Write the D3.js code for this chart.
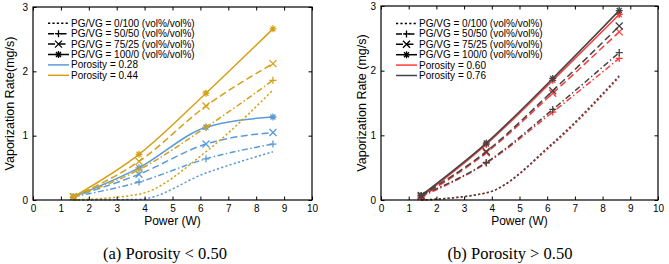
<!DOCTYPE html>
<html>
<head>
<meta charset="utf-8">
<script src="https://cdn.jsdelivr.net/npm/d3@7"></script>
<style>
  body { margin: 0; background: #fff; }
  svg { display: block; font-family: "Liberation Sans", Arial, sans-serif; }
</style>
</head>
<body>
<svg id="chart" width="669" height="264"></svg>
<script>
// valeurs
const power = [1.45, 3.8, 6.2, 8.6];
const blends = ["PG/VG = 0/100 (vol%/vol%)", "PG/VG = 50/50 (vol%/vol%)",
  "PG/VG = 75/25 (vol%/vol%)", "PG/VG = 100/0 (vol%/vol%)"];
const xTicks = [0, 1, 2, 3, 4, 5, 6, 7, 8, 9, 10];
const yTicks = [0, 1, 2, 3];

// panneau (a) : 0/100, 50/50, 75/25, 100/0
const rateP028 = [
  [0, 0.01, 0.42, 0.75],
  [0.05, 0.28, 0.64, 0.87],
  [0.05, 0.40, 0.87, 1.05],
  [0.05, 0.50, 1.13, 1.29]
];
const rateP044 = [
  [0, 0.09, 0.75, 1.71],
  [0.05, 0.47, 1.13, 1.86],
  [0.05, 0.60, 1.46, 2.12],
  [0.05, 0.71, 1.66, 2.66]
];
// panneau (b)
const rateP060 = [
  [0, 0.11, 0.86, 1.90],
  [0.05, 0.57, 1.36, 2.19],
  [0.05, 0.73, 1.65, 2.60],
  [0.05, 0.86, 1.85, 2.87]
];
const rateP076 = [
  [0, 0.11, 0.88, 1.92],
  [0.07, 0.58, 1.40, 2.28],
  [0.07, 0.75, 1.69, 2.69],
  [0.07, 0.88, 1.88, 2.93]
];

const dashes = ["2.2,2.2", "6,2.5,1.5,2.5", "7,3.5", null];
const markers = [null, "plus", "cross", "star"];

const svg = d3.select("#chart");

function marker(g, type, cx, cy, color, r = 3.5) {
  const p = d3.path();
  if (type === "plus" || type === "star") {
    p.moveTo(cx - r, cy); p.lineTo(cx + r, cy);
    p.moveTo(cx, cy - r); p.lineTo(cx, cy + r);
  }
  if (type === "cross" || type === "star") {
    const k = type === "star" ? r * 0.72 : r;
    p.moveTo(cx - k, cy - k); p.lineTo(cx + k, cy + k);
    p.moveTo(cx - k, cy + k); p.lineTo(cx + k, cy - k);
  }
  g.append("path").attr("d", p.toString())
    .attr("stroke", color).attr("stroke-width", 1.3).attr("fill", "none");
}

function drawPanel(opt) {
  const x = d3.scaleLinear().domain([0, 10]).range([opt.left, opt.right]);
  const y = d3.scaleLinear().domain([0, 3]).range([opt.bottom, opt.top]);
  const g = svg.append("g");

  // courbes
  const line = d3.line()
    .x((d, i) => x(power[i]))
    .y(d => y(d))
    .curve(d3.curveMonotoneX);

  opt.series.forEach(s => {
    s.values.forEach((vals, k) => {
      g.append("path")
        .attr("d", line(vals))
        .attr("fill", "none")
        .attr("stroke", s.color)
        .attr("stroke-width", 1.5)
        .attr("stroke-dasharray", dashes[k]);
      if (markers[k]) {
        vals.forEach((v, i) => marker(g, markers[k], x(power[i]), y(v), s.color));
      }
    });
  });

  // cadre et graduations internes
  g.append("rect")
    .attr("x", opt.left).attr("y", opt.top)
    .attr("width", opt.right - opt.left).attr("height", opt.bottom - opt.top)
    .attr("fill", "none").attr("stroke", "#000").attr("stroke-width", 1.2);

  g.append("g")
    .attr("transform", `translate(0,${opt.bottom})`)
    .call(d3.axisBottom(x).tickValues(xTicks).tickFormat(d3.format("d"))
      .tickSizeInner(-3.5).tickSizeOuter(0).tickPadding(5))
    .call(a => a.select(".domain").remove())
    .selectAll("text").style("font-size", "10px").style("font-family", "Liberation Sans, Arial");

  g.append("g")
    .attr("transform", `translate(0,${opt.top})`)
    .call(d3.axisTop(x).tickValues(xTicks).tickSizeInner(-3.5).tickSizeOuter(0).tickFormat(""))
    .call(a => a.select(".domain").remove());

  g.append("g")
    .attr("transform", `translate(${opt.left},0)`)
    .call(d3.axisLeft(y).tickValues(yTicks).tickFormat(d3.format("d"))
      .tickSizeInner(-3.5).tickSizeOuter(0).tickPadding(5))
    .call(a => a.select(".domain").remove())
    .selectAll("text").style("font-size", "10px").style("font-family", "Liberation Sans, Arial");

  g.append("g")
    .attr("transform", `translate(${opt.right},0)`)
    .call(d3.axisRight(y).tickValues(yTicks).tickSizeInner(-3.5).tickSizeOuter(0).tickFormat(""))
    .call(a => a.select(".domain").remove());

  // titres d'axes
  g.append("text")
    .attr("x", (opt.left + opt.right) / 2).attr("y", 225)
    .attr("text-anchor", "middle").style("font-size", "12px")
    .text("Power (W)");

  g.append("text")
    .attr("transform", `translate(${opt.left - opt.yLabelOffset},${(opt.top + opt.bottom) / 2}) rotate(-90)`)
    .attr("text-anchor", "middle").attr("dy", "0.35em").style("font-size", "12.5px")
    .text(opt.yLabel);

  g.append("text")
    .attr("x", opt.captionX).attr("y", 259)
    .attr("text-anchor", "middle")
    .style("font-family", "Liberation Serif, 'Times New Roman', serif")
    .style("font-size", "16.5px")
    .text(opt.caption);

  // légende
  const lg = g.append("g");
  const rows = blends.map((b, k) => ({ label: b, color: "#000", dash: dashes[k], mk: markers[k] }))
    .concat(opt.series.map(s => ({ label: s.label, color: s.color, dash: null, mk: null })));
  rows.forEach((r, i) => {
    const yy = opt.legendY + i * 10.4;
    lg.append("line")
      .attr("x1", opt.legendX).attr("x2", opt.legendX + 21)
      .attr("y1", yy).attr("y2", yy)
      .attr("stroke", r.color).attr("stroke-width", 1.5)
      .attr("stroke-dasharray", r.dash);
    if (r.mk) marker(lg, r.mk, opt.legendX + 10.5, yy, r.color);
    lg.append("text")
      .attr("x", opt.legendX + 23).attr("y", yy + 3.5)
      .style("font-size", "10px")
      .text(r.label);
  });
}

drawPanel({
  left: 33, right: 312, top: 7, bottom: 200,
  yLabel: "Vaporization Rate(mg/s)", yLabelOffset: 23,
  caption: "(a) Porosity < 0.50", captionX: 165,
  legendX: 48, legendY: 23.3,
  series: [
    { label: "Porosity = 0.28", color: "#5B9BD5", values: rateP028 },
    { label: "Porosity = 0.44", color: "#D4A017", values: rateP044 }
  ]
});

drawPanel({
  left: 381, right: 658, top: 6, bottom: 200,
  yLabel: "Vaporization Rate (mg/s)", yLabelOffset: 19,
  caption: "(b) Porosity > 0.50", captionX: 510,
  legendX: 396, legendY: 23.5,
  series: [
    { label: "Porosity = 0.60", color: "#FF3B3B", values: rateP060 },
    { label: "Porosity = 0.76", color: "#444444", values: rateP076 }
  ]
});
</script>
</body>
</html>
